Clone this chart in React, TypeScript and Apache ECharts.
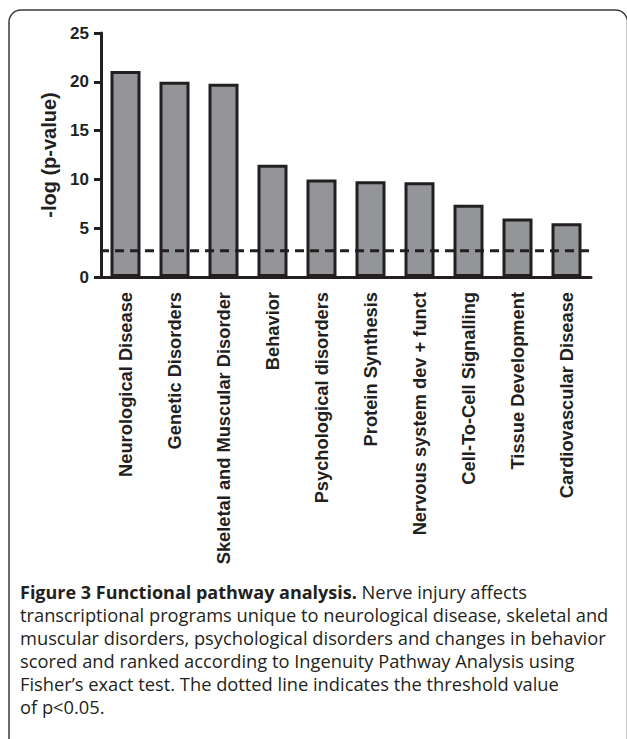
import React, { useEffect, useRef } from "react";
import * as echarts from "echarts";

const categories = [
  "Neurological Disease",
  "Genetic Disorders",
  "Skeletal and Muscular Disorder",
  "Behavior",
  "Psychological disorders",
  "Protein Synthesis",
  "Nervous system dev + funct",
  "Cell-To-Cell Signalling",
  "Tissue Development",
  "Cardiovascular Disease",
];
const values = [21.1, 20.0, 19.8, 11.5, 10.0, 9.8, 9.7, 7.4, 6.0, 5.5];
const yMin = 0;
const yMax = 25;
const yInterval = 5;
const thresholdValue = 2.7;
const yTitle = "-log (p-value)";
const captionLines = [
  "{b|Figure 3 Functional pathway analysis.} Nerve injury affects",
  "transcriptional programs unique to neurological disease, skeletal and",
  "muscular disorders, psychological disorders and changes in behavior",
  "scored and ranked according to Ingenuity Pathway Analysis using",
  "Fisher\u2019s exact test. The dotted line indicates the threshold value",
  "of p<0.05.",
];

const INK = "#231f20";
const AX_FONT = "'Liberation Sans', Arial, Helvetica, sans-serif";
const CAP_FONT = "'Open Sans', Lato, sans-serif";

export default function App() {
  const ref = useRef<HTMLDivElement>(null);
  useEffect(() => {
    if (!ref.current) return;
    const chart = echarts.init(ref.current, null, { renderer: "svg" });
    const n = categories.length;
    chart.setOption({
      animation: false,
      backgroundColor: "#ffffff",
      grid: { left: 101, right: 36, top: 33, bottom: 462, containLabel: false },
      xAxis: [
        {
          type: "category",
          data: categories,
          axisLine: { lineStyle: { color: INK, width: 3 } },
          axisTick: { alignWithLabel: true, length: 7, lineStyle: { color: INK, width: 3 } },
          axisLabel: {
            rotate: 90,
            interval: 0,
            margin: 15,
            color: INK,
            fontFamily: AX_FONT,
            fontWeight: "bold",
            fontSize: 18.3,
          },
          splitLine: { show: false },
        },
        {
          type: "value",
          min: 0,
          max: n,
          show: false,
          position: "bottom",
        },
      ],
      yAxis: {
        type: "value",
        min: yMin,
        max: yMax,
        interval: yInterval,
        name: yTitle,
        nameLocation: "middle",
        nameRotate: 90,
        nameGap: 40,
        nameTextStyle: { color: INK, fontFamily: AX_FONT, fontWeight: "bold", fontSize: 20 },
        axisLine: { show: true, lineStyle: { color: INK, width: 3 } },
        axisTick: { show: true, length: 7, lineStyle: { color: INK, width: 3 } },
        axisLabel: {
          margin: 12,
          color: INK,
          fontFamily: AX_FONT,
          fontWeight: "bold",
          fontSize: 17,
        },
        splitLine: { show: false },
      },
      series: [
        {
          type: "bar",
          data: values,
          barWidth: 30,
          itemStyle: { color: "#939598", borderColor: INK, borderWidth: 3 },
        },
        {
          type: "line",
          xAxisIndex: 1,
          data: [
            [-0.02, thresholdValue],
            [10.33, thresholdValue],
          ],
          symbol: "none",
          clip: false,
          lineStyle: { color: INK, width: 3, type: [9, 6] },
          z: 3,
        },
      ],
      graphic: [
        {
          type: "rect",
          shape: { x: 9, y: 10, width: 618.5, height: 780, r: 12 },
          style: { fill: "none", stroke: "#3a3a3a", lineWidth: 1.5 },
          silent: true,
        },
        {
          type: "text",
          left: 20,
          top: 580,
          style: {
            text: captionLines.join("\n"),
            fill: INK,
            font: `normal 18.3px ${CAP_FONT}`,
            lineHeight: 23,
            rich: {
              b: {
                fontWeight: "bold",
                fontFamily: CAP_FONT,
                fontSize: 18,
                lineHeight: 23,
                fill: INK,
              },
            },
          },
        },
      ],
    });
    return () => chart.dispose();
  }, []);
  return (
    <div
      ref={ref}
      style={{ position: "absolute", left: 0, top: 0, width: 627, height: 739 }}
    />
  );
}
